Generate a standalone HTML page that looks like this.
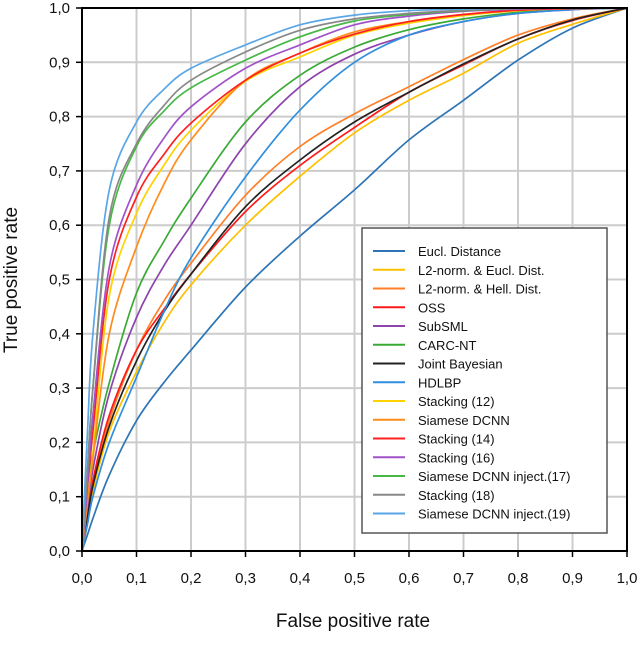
<!DOCTYPE html>
<html><head><meta charset="utf-8"><style>
html,body{margin:0;padding:0;background:#fff;}
svg{display:block;font-family:"Liberation Sans",Arial,sans-serif;}
</style></head><body>
<svg id="chart" width="640" height="668" viewBox="0 0 640 668" xmlns="http://www.w3.org/2000/svg">
<g id="grid"></g>
<g id="series"></g>
<g id="axes"></g>
<text x="353" y="627" font-size="19" text-anchor="middle" fill="#111">False positive rate</text>
<text x="0" y="0" font-size="19" text-anchor="middle" fill="#111" transform="translate(17,280) rotate(-90)">True positive rate</text>
<g id="legend"></g>
</svg>
<script>
const fprGrid = [0,0.01,0.02,0.05,0.1,0.15,0.2,0.3,0.4,0.5,0.6,0.7,0.8,0.9,1.0];
const seriesNames = ["Eucl. Distance","L2-norm. & Eucl. Dist.","L2-norm. & Hell. Dist.","OSS","SubSML","CARC-NT","Joint Bayesian","HDLBP","Stacking (12)","Siamese DCNN","Stacking (14)","Stacking (16)","Siamese DCNN inject.(17)","Stacking (18)","Siamese DCNN inject.(19)"];
const seriesColors = ["#2e75b6","#ffc000","#ff7f27","#ff1a1a","#8e44ad","#3aaa35","#222222","#2f8fde","#ffd200","#ff8c1a","#ff2020","#a152c9","#47b845","#888888","#5aa6e6"];
const tprEucl = [0,0.03,0.06,0.14,0.24,0.31,0.37,0.486,0.58,0.665,0.757,0.83,0.904,0.963,1];
const tprL2Eucl = [0,0.05,0.11,0.22,0.33,0.42,0.49,0.6,0.69,0.77,0.83,0.88,0.935,0.97,1];
const tprL2Hell = [0,0.06,0.12,0.24,0.37,0.46,0.53,0.655,0.745,0.805,0.855,0.905,0.95,0.98,1];
const tprOSS = [0,0.06,0.13,0.25,0.37,0.445,0.51,0.625,0.71,0.78,0.845,0.895,0.943,0.977,1];
const tprSubSML = [0,0.08,0.15,0.29,0.43,0.525,0.6,0.75,0.855,0.915,0.95,0.975,0.99,0.997,1];
const tprCARC = [0,0.12,0.18,0.31,0.475,0.57,0.65,0.79,0.876,0.928,0.96,0.98,0.992,0.998,1];
const tprJB = [0,0.06,0.12,0.23,0.35,0.44,0.51,0.634,0.72,0.79,0.845,0.897,0.943,0.978,1];
const tprHDLBP = [0,0.05,0.1,0.2,0.32,0.44,0.54,0.689,0.812,0.9,0.95,0.975,0.99,0.997,1];
const tprS12 = [0,0.1,0.18,0.47,0.622,0.71,0.775,0.865,0.91,0.95,0.972,0.986,0.995,0.999,1];
const tprDCNN = [0,0.09,0.17,0.4,0.56,0.675,0.757,0.867,0.917,0.956,0.975,0.988,0.996,0.999,1];
const tprS14 = [0,0.12,0.22,0.5,0.652,0.73,0.788,0.867,0.917,0.952,0.975,0.988,0.996,0.999,1];
const tprS16 = [0,0.12,0.25,0.523,0.674,0.76,0.818,0.889,0.932,0.969,0.985,0.994,0.998,1,1];
const tprInj17 = [0,0.15,0.3,0.6,0.745,0.81,0.853,0.904,0.947,0.976,0.988,0.995,0.999,1,1];
const tprS18 = [0,0.15,0.3,0.615,0.75,0.82,0.867,0.919,0.959,0.98,0.99,0.996,0.999,1,1];
const tprInj19 = [0,0.22,0.4,0.665,0.79,0.85,0.889,0.932,0.969,0.987,0.995,0.998,1,1,1];
const tickLabels = ["0,0","0,1","0,2","0,3","0,4","0,5","0,6","0,7","0,8","0,9","1,0"];
const allSeries = [tprEucl,tprL2Eucl,tprL2Hell,tprOSS,tprSubSML,tprCARC,tprJB,tprHDLBP,tprS12,tprDCNN,tprS14,tprS16,tprInj17,tprS18,tprInj19];

const NS="http://www.w3.org/2000/svg";
const X0=82,X1=627,Y0=551,Y1=8;
function xs(v){return X0+(X1-X0)*v;}
function ys(v){return Y0-(Y0-Y1)*v;}
function mk(tag,attrs,parent){const e=document.createElementNS(NS,tag);for(const k in attrs)e.setAttribute(k,attrs[k]);parent.appendChild(e);return e;}

const grid=document.getElementById('grid');
const axes=document.getElementById('axes');
tickLabels.forEach((lab,i)=>{
  const v=i/10;
  if(i>0){
    const gv=mk('line',{x1:xs(v),x2:xs(v),y1:Y1,y2:Y0,stroke:'#cccccc','stroke-width':2},grid);
    
    
    const gh=mk('line',{x1:X0,x2:X1,y1:ys(v),y2:ys(v),stroke:'#cccccc','stroke-width':2},grid);
    
    
  }
  const tx=mk('text',{x:xs(v),y:583,'font-size':15,'text-anchor':'middle',fill:'#111'},axes);
  tx.textContent=lab;
  
  
  const ty=mk('text',{x:70,y:ys(v)+5,'font-size':15,'text-anchor':'end',fill:'#111'},axes);
  ty.textContent=lab;
  
  
  const tk1=mk('line',{x1:xs(v),x2:xs(v),y1:Y0,y2:Y0+6,stroke:'#000','stroke-width':1.5},axes);
  
  
  const tk2=mk('line',{x1:X0-6,x2:X0,y1:ys(v),y2:ys(v),stroke:'#000','stroke-width':1.5},axes);
  
  
});
const frame=mk('rect',{x:X0,y:Y1,width:X1-X0,height:Y0-Y1,fill:'none',stroke:'#000','stroke-width':2},axes);



function smoothPath(P){
  let d='M'+P[0][0].toFixed(1)+','+P[0][1].toFixed(1);
  for(let i=0;i<P.length-1;i++){
    const p0=P[i>0?i-1:i],p1=P[i],p2=P[i+1],p3=P[i+2<P.length?i+2:i+1];
    const c1x=p1[0]+(p2[0]-p0[0])/6,c1y=p1[1]+(p2[1]-p0[1])/6;
    const c2x=p2[0]-(p3[0]-p1[0])/6,c2y=p2[1]-(p3[1]-p1[1])/6;
    d+=' C'+c1x.toFixed(1)+','+c1y.toFixed(1)+' '+c2x.toFixed(1)+','+c2y.toFixed(1)+' '+p2[0].toFixed(1)+','+p2[1].toFixed(1);
  }
  return d;
}
const sg=document.getElementById('series');
allSeries.forEach((arr,si)=>{
  const P=arr.map((t,i)=>[xs(fprGrid[i]),ys(t)]);
  const pl=mk('path',{d:smoothPath(P),fill:'none',stroke:seriesColors[si],'stroke-width':1.7,'stroke-linejoin':'round'},sg);
  
  
});

const lg=document.getElementById('legend');
const box=mk('rect',{x:362,y:228,width:245,height:305,fill:'#fff',stroke:'#555','stroke-width':1.5},lg);


seriesNames.forEach((n,i)=>{
  const y=251+i*18.75;
  const g=mk('g',{},lg);
  
  
  mk('line',{x1:373,x2:405,y1:y,y2:y,stroke:seriesColors[i],'stroke-width':2},g);
  const t=mk('text',{x:418,y:y+5,'font-size':13,fill:'#111'},g);
  t.textContent=n;
});
</script>
</body></html>
